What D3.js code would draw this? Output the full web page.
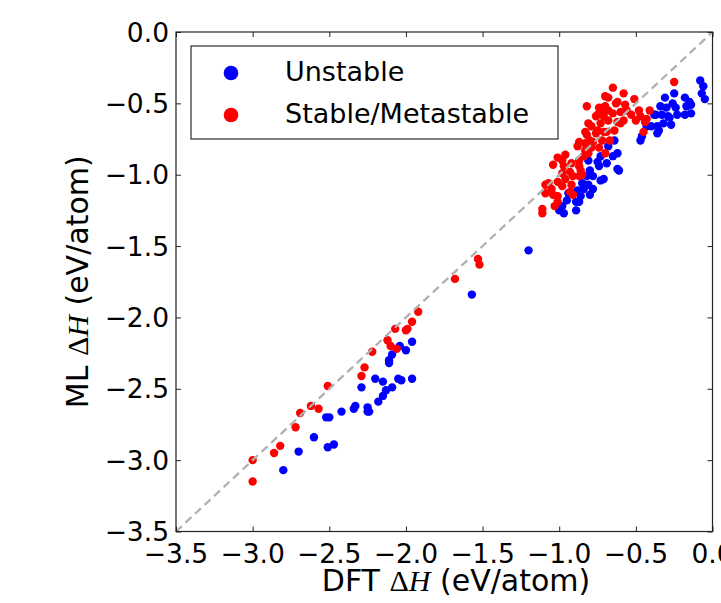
<!DOCTYPE html>
<html>
<head>
<meta charset="utf-8" />
<title>ML vs DFT formation enthalpy</title>
<style>
html, body {
    margin: 0px;
    padding: 0px;
    background: #fff;
}
#chart {
    width: 721px;
    height: 603px;
}
text {
    font-family: "DejaVu Sans", sans-serif;
    fill: #000;
}
.math {
    font-family: "Liberation Serif", "DejaVu Serif", serif;
}
</style>
</head>
<body>
<div id="chart"></div>

<script src="https://cdnjs.cloudflare.com/ajax/libs/d3/7.8.5/d3.min.js"></script>
<script>
!(function(){
    "use strict"

    // DFT dH vs ML dH (eV/atom)
    var unstable = [
        [-0.08,-0.34],[-0.06,-0.38],[-0.07,-0.43],[-0.05,-0.47],[-0.25,-0.43],[-0.31,-0.46],
        [-0.26,-0.50],[-0.18,-0.46],[-0.15,-0.49],[-0.14,-0.51],[-0.34,-0.52],[-0.30,-0.53],
        [-0.24,-0.53],[-0.23,-0.58],[-0.18,-0.58],[-0.37,-0.58],[-0.33,-0.58],[-0.29,-0.59],
        [-0.40,-0.66],[-0.36,-0.66],[-0.32,-0.64],[-0.27,-0.65],[-0.36,-0.71],[-0.46,-0.73],
        [-0.47,-0.76],[-0.64,-0.76],[-0.68,-0.80],[-0.62,-0.85],[-0.65,-0.87],[-0.73,-0.87],
        [-0.74,-0.94],[-0.62,-0.96],[-0.71,-1.03],[-0.73,-1.04],[-0.80,-0.97],[-0.82,-1.01],
        [-0.85,-1.06],[-0.81,-1.07],[-0.78,-1.10],[-0.88,-1.11],[-0.91,-1.13],[-0.86,-1.15],
        [-0.80,-1.14],[-0.95,-1.18],[-0.89,-1.19],[-0.87,-1.19],[-0.98,-1.22],[-0.97,-1.27],
        [-0.17,-0.52],[-0.14,-0.57],[-0.28,-0.60],[-0.38,-0.58],[-0.43,-0.66],[-0.35,-0.69],
        [-0.69,-0.92],[-0.75,-0.91],[-0.81,-0.90],[-0.84,-1.10],[-0.94,-1.13],[-1.00,-1.25],
        [-0.89,-1.25],[-0.78,-1.01],[-0.61,-0.97],
        [-1.20,-1.53],[-1.57,-1.84],
        [-1.96,-2.17],[-2.04,-2.20],[-2.00,-2.23],[-2.09,-2.26],[-2.11,-2.30],[-2.11,-2.32],
        [-2.20,-2.43],[-2.15,-2.45],[-2.05,-2.43],[-2.03,-2.44],[-1.96,-2.43],[-2.09,-2.49],
        [-2.29,-2.49],[-2.13,-2.51],[-2.15,-2.55],[-2.18,-2.59],[-2.34,-2.64],[-2.33,-2.62],
        [-2.25,-2.63],[-2.25,-2.66],[-2.24,-2.66],[-2.42,-2.66],[-2.52,-2.70],[-2.50,-2.70],
        [-2.60,-2.84],[-2.70,-2.94],[-2.51,-2.91],[-2.47,-2.89],[-2.80,-3.07]
    ]

    var stable = [
        [-0.25,-0.35],[-0.65,-0.39],[-0.58,-0.43],[-0.82,-0.52],[-0.68,-0.46],[-0.62,-0.49],
        [-0.51,-0.47],[-0.74,-0.53],[-0.70,-0.52],[-0.68,-0.55],[-0.75,-0.58],[-0.71,-0.59],
        [-0.65,-0.57],[-0.60,-0.56],[-0.56,-0.55],[-0.53,-0.58],[-0.48,-0.55],[-0.41,-0.55],
        [-0.47,-0.59],[-0.43,-0.61],[-0.50,-0.62],[-0.79,-0.66],[-0.73,-0.64],[-0.68,-0.62],
        [-0.62,-0.63],[-0.58,-0.62],[-0.45,-0.70],[-0.82,-0.72],[-0.76,-0.71],[-0.71,-0.70],
        [-0.64,-0.69],[-0.83,-0.78],[-0.78,-0.77],[-0.72,-0.76],[-0.88,-0.80],[-0.83,-0.83],
        [-0.79,-0.81],[-0.74,-0.81],[-0.70,-0.85],[-1.01,-0.88],[-0.96,-0.86],[-1.04,-0.93],
        [-0.97,-0.94],[-0.92,-0.92],[-0.87,-0.90],[-0.84,-0.87],[-0.98,-0.99],[-0.93,-0.98],
        [-0.86,-0.97],[-1.01,-1.05],[-0.96,-1.03],[-0.91,-1.01],[-0.85,-1.00],[-1.09,-1.07],
        [-1.05,-1.10],[-0.98,-1.08],[-0.92,-1.07],[-1.09,-1.13],[-1.04,-1.14],[-0.93,-1.12],
        [-0.91,-1.14],[-1.01,-1.19],[-1.03,-1.22],[-1.11,-1.24],[-1.11,-1.27],[-0.57,-0.51],
        [-0.44,-0.63],[-0.60,-0.64],[-0.98,-0.90],[-0.87,-0.94],[-0.81,-0.85],[-1.07,-1.06],
        [-0.87,-1.01],[-1.01,-1.15],[-0.70,-0.45],[-0.63,-0.50],[-0.73,-0.56],[-0.76,-0.59],
        [-0.81,-0.64],[-0.83,-0.70],[-0.75,-0.69],[-0.69,-0.70],[-0.87,-0.77],[-0.80,-0.76],
        [-0.67,-0.76],
        [-1.53,-1.59],[-1.52,-1.63],[-1.68,-1.73],
        [-1.92,-1.96],[-1.96,-2.03],[-1.99,-2.08],[-2.00,-2.09],[-2.07,-2.08],[-2.12,-2.16],
        [-2.10,-2.20],[-2.06,-2.22],[-2.22,-2.24],[-2.27,-2.35],[-2.29,-2.41],[-2.51,-2.48],
        [-2.57,-2.64],[-2.62,-2.62],[-2.69,-2.67],[-2.72,-2.77],[-2.82,-2.90],[-2.86,-2.95],
        [-3.00,-3.00],[-3.00,-3.15]
    ]

    var ticks = [-3.5, -3.0, -2.5, -2.0, -1.5, -1.0, -0.5, 0.0]
    var series = ["Unstable", "Stable/Metastable"]
    var colors = ["#0000ff", "#ff0000"]

    var width = 721, height = 603
    var left = 176, right = 712.5, top = 32, bottom = 531.5

    var svg = d3.select("#chart").append("svg")
        .attr("width", width)
        .attr("height", height)

    var x = d3.scaleLinear().domain([-3.5, 0]).range([left, right])
    var y = d3.scaleLinear().domain([-3.5, 0]).range([bottom, top])
    var fmt = d3.format(".1f")

    // points: unstable first, stable drawn on top
    var plot = svg.append("g")
    ;[unstable, stable].forEach(function(pts, i) {
        plot.selectAll(".s" + i).data(pts)
            .enter().append("circle")
            .attr("class", "s" + i)
            .attr("cx", function(d) { return x(d[0]) })
            .attr("cy", function(d) { return y(d[1]) })
            .attr("r", 4.2)
            .attr("fill", colors[i])
    })

    // parity line
    svg.append("line")
        .attr("x1", x(-3.5)).attr("y1", y(-3.5))
        .attr("x2", x(0)).attr("y2", y(0))
        .attr("stroke", "#b0b0b0")
        .attr("stroke-width", 2.3)
        .attr("stroke-dasharray", "8,5")

    // ticks inside on all four sides
    var tickLen = 5
    var axisG = svg.append("g")
    function tickAxis(axis, pos) {
        var g = axisG.append("g").attr("transform", pos).call(axis)
        g.select(".domain").remove()
        g.selectAll(".tick line").attr("stroke", "#222").attr("stroke-width", 1)
        g.selectAll(".tick text").remove()
    }
    tickAxis(d3.axisBottom(x).tickValues(ticks).tickSize(-tickLen), "translate(0," + bottom + ")")
    tickAxis(d3.axisTop(x).tickValues(ticks).tickSize(-tickLen), "translate(0," + top + ")")
    tickAxis(d3.axisLeft(y).tickValues(ticks).tickSize(-tickLen), "translate(" + left + ",0)")
    tickAxis(d3.axisRight(y).tickValues(ticks).tickSize(-tickLen), "translate(" + right + ",0)")

    axisG.append("rect")
        .attr("x", left).attr("y", top)
        .attr("width", right - left).attr("height", bottom - top)
        .attr("fill", "none")
        .attr("stroke", "#222")
        .attr("stroke-width", 1.2)

    // tick labels
    svg.append("g").selectAll("text").data(ticks)
        .enter().append("text")
        .attr("x", function(d) { return x(d) })
        .attr("y", bottom + 31)
        .attr("text-anchor", "middle")
        .style("font-size", "26.5px")
        .text(fmt)

    svg.append("g").selectAll("text").data(ticks)
        .enter().append("text")
        .attr("x", left - 7)
        .attr("y", function(d) { return y(d) + 9.5 })
        .attr("text-anchor", "end")
        .style("font-size", "26.5px")
        .text(fmt)

    // axis labels
    var xl = svg.append("text")
        .attr("x", 456)
        .attr("y", 591)
        .attr("text-anchor", "middle")
        .style("font-size", "30px")
    xl.append("tspan").text("DFT ")
    xl.append("tspan").attr("class", "math").text("\u0394")
    xl.append("tspan").attr("class", "math").style("font-style", "italic").text("H")
    xl.append("tspan").text(" (eV/atom)")

    var yl = svg.append("text")
        .attr("transform", "translate(88," + ((top + bottom) / 2) + ") rotate(-90)")
        .attr("text-anchor", "middle")
        .style("font-size", "30px")
    yl.append("tspan").text("ML ")
    yl.append("tspan").attr("class", "math").text("\u0394")
    yl.append("tspan").attr("class", "math").style("font-style", "italic").text("H")
    yl.append("tspan").text(" (eV/atom)")

    // legend
    var lg = svg.append("g").attr("transform", "translate(191,46)")
    lg.append("rect")
        .attr("width", 367).attr("height", 93)
        .attr("fill", "#fff")
        .attr("stroke", "#000")
        .attr("stroke-width", 1)
    series.forEach(function(name, i) {
        var row = lg.append("g").attr("transform", "translate(0," + (27 + i * 42) + ")")
        row.append("circle").attr("cx", 40).attr("cy", 0).attr("r", 7.3).attr("fill", colors[i])
        row.append("text").attr("x", 94).attr("y", 7.5)
            .style("font-size", "27px")
            .text(name)
    })
}());
</script>
</body>
</html>
